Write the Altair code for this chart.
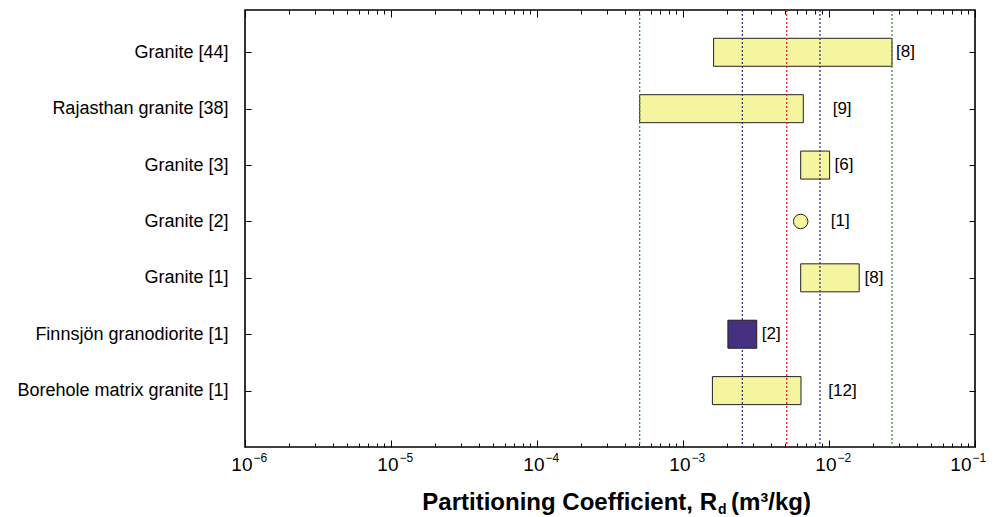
import altair as alt
import pandas as pd

# ---- data ----
categories = [
    "Granite [44]",
    "Rajasthan granite [38]",
    "Granite [3]",
    "Granite [2]",
    "Granite [1]",
    "Finnsjön granodiorite [1]",
    "Borehole matrix granite [1]",
]
rd_low = [1.62e-3, 5.05e-4, 6.4e-3, 6.4e-3, 6.4e-3, 2.03e-3, 1.59e-3]
rd_high = [2.7e-2, 6.67e-3, 1.01e-2, 6.4e-3, 1.61e-2, 3.2e-3, 6.43e-3]
sample_counts = ["[8]", "[9]", "[6]", "[1]", "[8]", "[2]", "[12]"]
count_label_x = [2.88e-2, 1.06e-2, 1.09e-2, 1.03e-2, 1.75e-2, 3.46e-3, 9.9e-3]
fill_colors = ["#f5f5a0", "#f5f5a0", "#f5f5a0", "#f5f5a0", "#f5f5a0", "#46307f", "#f5f5a0"]

ref_values = [5.05e-4, 2.55e-3, 5.13e-3, 8.67e-3, 2.7e-2]
ref_colors = ["#3c8c3c", "#3a2f8a", "#e8262e", "#3a2f8a", "#3c8c3c"]

decade_ticks = [1e-6, 1e-5, 1e-4, 1e-3, 1e-2, 1e-1]
decade_base = ["10", "10", "10", "10", "10", "10"]
decade_exponents = ["−6", "−5", "−4", "−3", "−2", "−1"]
minor_ticks = [m * d for d in decade_ticks[:-1] for m in range(2, 10)]

title_main = "Partitioning Coefficient, R"
title_sub = "d"
title_unit = "(m³/kg)"

W, H = 730, 437
FONT = "Liberation Sans"

n = len(categories)
rows = list(range(n, 0, -1))
df = pd.DataFrame({
    "category": categories,
    "row": rows,
    "lo": rd_low,
    "hi": rd_high,
    "n": sample_counts,
    "nx": count_label_x,
    "fill": fill_colors,
})
ref_df = pd.DataFrame({"v": ref_values, "c": ref_colors})

xs = alt.Scale(type="log", domain=[decade_ticks[0], decade_ticks[-1]], nice=False, padding=0)
ys = alt.Scale(domain=[0, n + 0.75], nice=False, zero=False, padding=0)


def arr_expr(items, index_expr):
    return "[" + ",".join(f"'{s}'" for s in items) + "][" + index_expr + "]"


decade_index = "round(log(datum.value)/LN10) + 6"
row_labels = [""] + categories[::-1]
last_test = "datum.value > 0.05"


def tick_axis(orient, offset, values, size):
    return alt.Axis(orient=orient, offset=offset, values=values, labels=False, domain=False,
                    grid=False, ticks=True, tickSize=size, tickColor="black", tickWidth=1,
                    title=None)


ax_x_base = alt.Axis(orient="bottom", values=decade_ticks,
                     labelExpr=arr_expr(decade_base, decade_index), ticks=False,
                     domain=False, grid=False, labelFontSize=19, labelFont=FONT,
                     labelColor="black", labelPadding=8, labelFlush=False,
                     labelAlign="right",
                     labelOffset={"condition": {"test": last_test, "value": -4}, "value": 7},
                     labelOverlap=False, title=None)
ax_x_exp = alt.Axis(orient="bottom", values=decade_ticks,
                    labelExpr=arr_expr(decade_exponents, decade_index), ticks=False,
                    domain=False, grid=False, labelFontSize=12, labelFont=FONT,
                    labelColor="black", labelPadding=5, labelFlush=False,
                    labelAlign="left",
                    labelOffset={"condition": {"test": last_test, "value": -3}, "value": 8},
                    labelOverlap=False, title=None)
ax_y_labels = alt.Axis(orient="left", values=rows, labelExpr=arr_expr(row_labels, "datum.value"),
                       ticks=False, domain=False, grid=False, labelFontSize=18, labelFont=FONT,
                       labelColor="black", labelPadding=17, labelOverlap=False,
                       labelLimit=400, title=None)

base = alt.Chart(df)

bars = base.transform_filter("datum.lo != datum.hi").mark_bar(
    size=28, orient="horizontal", stroke="#222222", strokeWidth=1
).encode(
    x=alt.X("lo:Q", scale=xs, axis=ax_x_base),
    x2="hi:Q",
    y=alt.Y("row:Q", scale=ys, axis=ax_y_labels),
    fill=alt.Fill("fill:N", scale=None),
)

point = base.transform_filter("datum.lo == datum.hi").mark_circle(
    size=210, stroke="#222222", strokeWidth=1, opacity=1
).encode(
    x=alt.X("lo:Q", scale=xs, axis=tick_axis("top", -H, decade_ticks, 7)),
    y=alt.Y("row:Q", scale=ys, axis=tick_axis("right", -W, rows, 6)),
    fill=alt.Fill("fill:N", scale=None),
)

labels = base.mark_text(align="left", baseline="middle", fontSize=17, font=FONT, color="black").encode(
    x=alt.X("nx:Q", scale=xs, axis=tick_axis("top", -H, minor_ticks, 4)),
    y=alt.Y("row:Q", scale=ys, axis=tick_axis("left", -W, rows, 6)),
    text="n:N",
)

dummy1 = base.mark_point(opacity=0).encode(
    x=alt.X("lo:Q", scale=xs, axis=tick_axis("bottom", -H, decade_ticks, 7)),
    y=alt.Y("row:Q", scale=ys, axis=None),
)
dummy2 = base.mark_point(opacity=0).encode(
    x=alt.X("hi:Q", scale=xs, axis=tick_axis("bottom", -H, minor_ticks, 4)),
    y=alt.Y("row:Q", scale=ys, axis=None),
)
dummy3 = base.mark_point(opacity=0).encode(
    x=alt.X("nx:Q", scale=xs, axis=ax_x_exp),
    y=alt.Y("row:Q", scale=ys, axis=None),
)

rules = alt.Chart(ref_df).mark_rule(strokeDash=[2, 2], strokeWidth=1.3).encode(
    x=alt.X("v:Q", scale=xs, axis=None),
    color=alt.Color("c:N", scale=None),
)

t1 = alt.Chart(pd.DataFrame({"t": [title_main]})).mark_text(
    align="right", baseline="alphabetic", fontSize=24, fontWeight="bold", font=FONT, color="black"
).encode(text="t:N", x=alt.value(472), y=alt.value(500))
t2 = alt.Chart(pd.DataFrame({"t": [title_sub]})).mark_text(
    align="left", baseline="alphabetic", fontSize=14, fontWeight="bold", font=FONT, color="black"
).encode(text="t:N", x=alt.value(473), y=alt.value(504))
t3 = alt.Chart(pd.DataFrame({"t": [title_unit]})).mark_text(
    align="left", baseline="alphabetic", fontSize=24, fontWeight="bold", font=FONT, color="black"
).encode(text="t:N", x=alt.value(486), y=alt.value(500))

chart = alt.layer(
    bars, point, dummy1, dummy2, dummy3, rules, labels, t1, t2, t3
).resolve_axis(
    x="independent", y="independent"
).properties(
    width=W, height=H,
    autosize=alt.AutoSizeParams(type="none"),
    padding={"left": 237, "top": 2, "right": 11, "bottom": 70},
    background="white",
).configure_view(
    stroke="black", strokeWidth=1.6
)

chart.save("out.html", embed_options={"renderer": "svg", "actions": False})
